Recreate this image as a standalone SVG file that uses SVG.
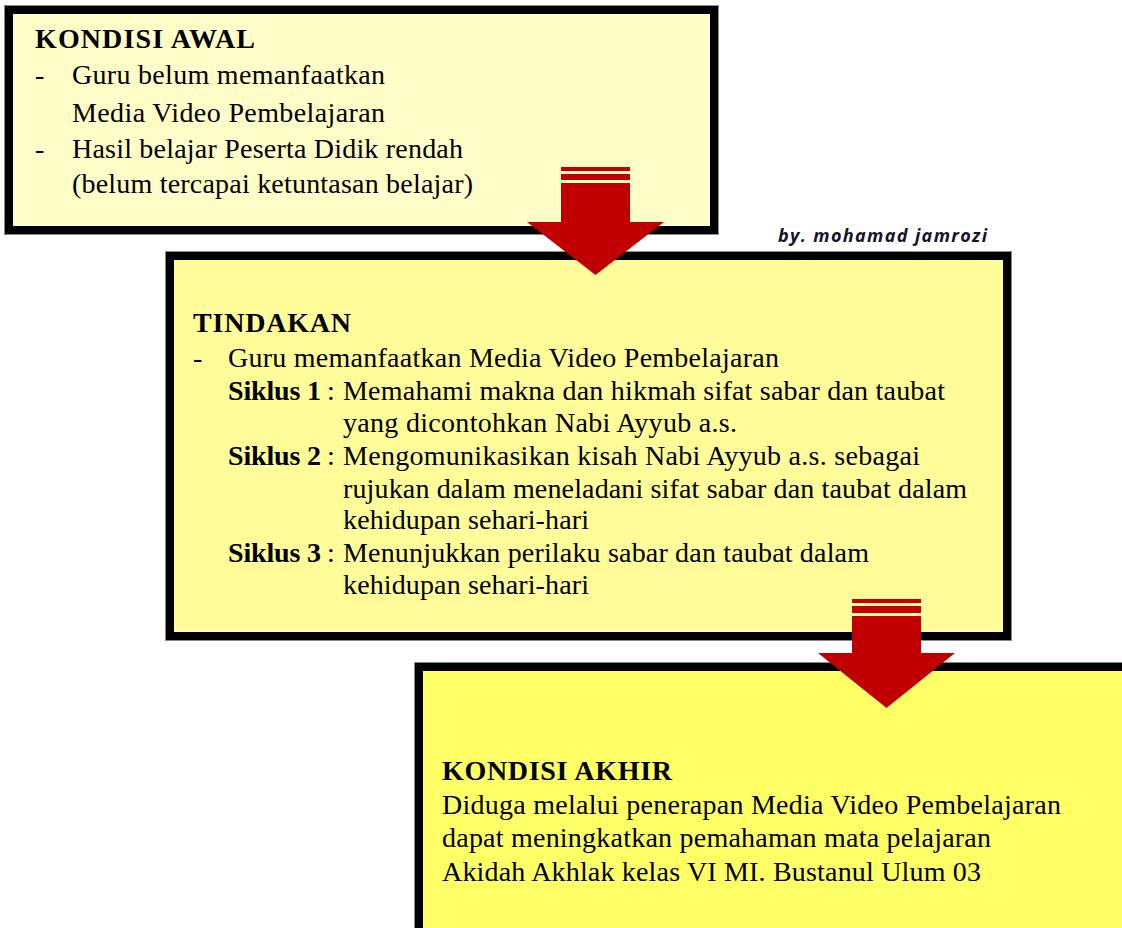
<svg xmlns="http://www.w3.org/2000/svg" width="1122" height="928" viewBox="0 0 1122 928">
  <style>
    .box { stroke: #000; stroke-width: 8; }
    .edge { fill: none; stroke: #8a8a8a; stroke-width: 1; }
    .t { font-family: "Liberation Serif", "Times New Roman", serif; font-size: 28px; fill: #000; }
    .b { font-weight: bold; }
    .by { font-family: "Open Sans", "Liberation Sans", sans-serif; font-size: 18px; font-weight: bold; font-style: italic; fill: #14142a; }
    .arrow { fill: #C00000; }
  </style>
  <rect width="1122" height="928" fill="#ffffff"/>

  <g id="node-kondisi-awal">
    <rect class="edge" x="4.5" y="5.5" width="714" height="229"/>
    <rect class="box" x="9" y="10" width="705" height="220" fill="#FFFDC8"/>
    <text class="t b" x="35" y="48" textLength="220">KONDISI AWAL</text>
    <text class="t" x="35" y="84">-</text>
    <text class="t" x="72" y="84" textLength="313">Guru belum memanfaatkan</text>
    <text class="t" x="72" y="122" textLength="313">Media Video Pembelajaran</text>
    <text class="t" x="35" y="158">-</text>
    <text class="t" x="72" y="158" textLength="391">Hasil belajar Peserta Didik rendah</text>
    <text class="t" x="72" y="193" textLength="401">(belum tercapai ketuntasan belajar)</text>
  </g>

  <g id="node-tindakan">
    <rect class="edge" x="165.5" y="251.5" width="846" height="389"/>
    <rect class="box" x="170" y="256" width="837" height="380" fill="#FFFC99"/>
    <text class="t b" x="193" y="332" textLength="158">TINDAKAN</text>
    <text class="t" x="193" y="367">-</text>
    <text class="t" x="228" y="367" textLength="551">Guru memanfaatkan Media Video Pembelajaran</text>
    <text class="t b" x="228" y="400" textLength="93">Siklus 1</text>
    <text class="t" x="327" y="400">:</text>
    <text class="t" x="343" y="400" textLength="602">Memahami makna dan hikmah sifat sabar dan taubat</text>
    <text class="t" x="343" y="432" textLength="394">yang dicontohkan Nabi Ayyub a.s.</text>
    <text class="t b" x="228" y="465" textLength="93">Siklus 2</text>
    <text class="t" x="327" y="465">:</text>
    <text class="t" x="343" y="465" textLength="577">Mengomunikasikan kisah Nabi Ayyub a.s. sebagai</text>
    <text class="t" x="343" y="498" textLength="624">rujukan dalam meneladani sifat sabar dan taubat dalam</text>
    <text class="t" x="343" y="529" textLength="246">kehidupan sehari-hari</text>
    <text class="t b" x="228" y="562" textLength="93">Siklus 3</text>
    <text class="t" x="327" y="562">:</text>
    <text class="t" x="343" y="562" textLength="526">Menunjukkan perilaku sabar dan taubat dalam</text>
    <text class="t" x="343" y="594" textLength="246">kehidupan sehari-hari</text>
  </g>

  <g id="node-kondisi-akhir">
    <rect class="edge" x="414.5" y="662.5" width="730" height="300"/>
    <rect class="box" x="419" y="667" width="720" height="300" fill="#FFFF66"/>
    <text class="t b" x="442" y="780" textLength="230">KONDISI AKHIR</text>
    <text class="t" x="442" y="814" textLength="619">Diduga melalui penerapan Media Video Pembelajaran</text>
    <text class="t" x="442" y="847" textLength="549">dapat meningkatkan pemahaman mata pelajaran</text>
    <text class="t" x="442" y="881" textLength="539">Akidah Akhlak kelas VI MI. Bustanul Ulum 03</text>
  </g>

  <g id="connectors">
    <g id="arrow-awal-tindakan" class="arrow">
      <rect x="561" y="167" width="69" height="4"/>
      <rect x="561" y="174" width="69" height="6"/>
      <polygon points="561,183 630,183 630,222 664,222 595.5,275 527,222 561,222"/>
    </g>
    <g id="arrow-tindakan-akhir" class="arrow">
      <rect x="852" y="599" width="69" height="4"/>
      <rect x="852" y="606" width="69" height="7"/>
      <polygon points="852,616 921,616 921,653 955,653 886.5,708 818,653 852,653"/>
    </g>
  </g>

  <text class="by" x="778" y="242" textLength="209">by. mohamad jamrozi</text>
</svg>
